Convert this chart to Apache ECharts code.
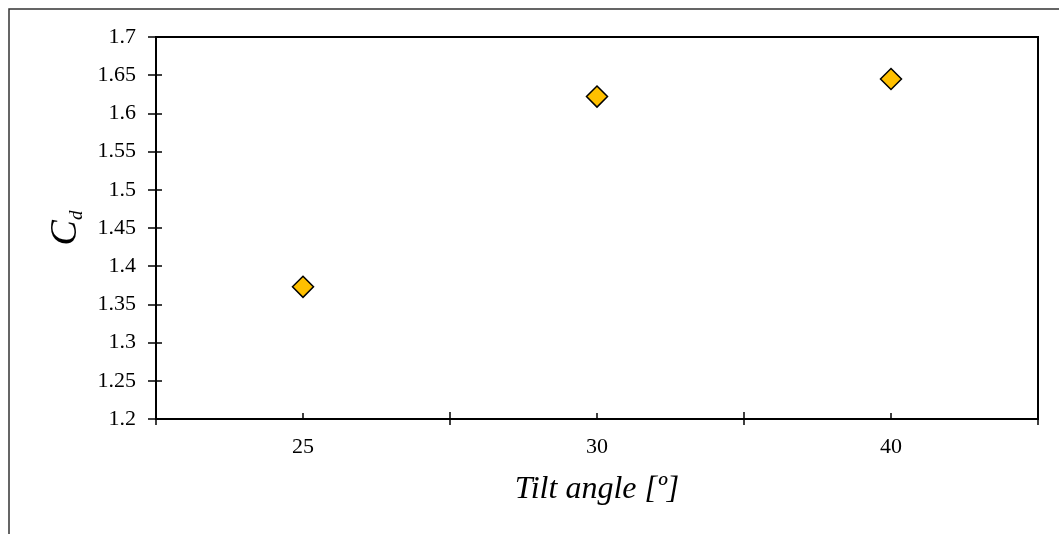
<!DOCTYPE html>
<html>
<head>
<meta charset="utf-8">
<script src="https://cdn.jsdelivr.net/npm/echarts@6/dist/echarts.min.js"></script>
<style>
  html, body { margin: 0; padding: 0; background: #fff; }
  #chart { width: 1059px; height: 534px; }
</style>
</head>
<body>
<div id="chart"></div>
<script>
// Drag coefficient against tilt angle
const tiltAngles = ['25', '30', '40'];
const dragCoefficient = [1.373, 1.622, 1.645];
const yMin = 1.2, yMax = 1.7, yStep = 0.05;

const serif = '"Liberation Serif", "Times New Roman", serif';
const black = '#000';

const chart = echarts.init(document.getElementById('chart'), null, { renderer: 'canvas' });

// Extra tick-only axes give the crossing / inner tick marks
const tickOnly = (inside, length, align) => ({
  type: 'category',
  data: tiltAngles,
  position: 'bottom',
  axisLine: { show: false },
  axisLabel: { show: false },
  axisTick: { show: true, inside: inside, length: length, alignWithLabel: align,
              lineStyle: { color: black, width: 1.5 } },
  splitLine: { show: false }
});

chart.setOption({
  animation: false,
  backgroundColor: '#fff',
  graphic: [
    { type: 'polyline', shape: { points: [[9, 534], [9, 9], [1059, 9]] },
      style: { stroke: '#333', lineWidth: 1.5, fill: null } }
  ],
  grid: { left: 156, right: 21, top: 37, bottom: 115, show: true,
          borderColor: black, borderWidth: 2, backgroundColor: 'transparent' },
  xAxis: [
    {
      type: 'category',
      data: tiltAngles,
      position: 'bottom',
      name: 'Tilt angle [º]',
      nameLocation: 'middle',
      nameGap: 55,
      nameTextStyle: { fontFamily: serif, fontStyle: 'italic', fontSize: 32, color: black },
      axisLine: { show: true, lineStyle: { color: black, width: 2 } },
      axisTick: { show: true, inside: false, length: 6, lineStyle: { color: black, width: 1.5 } },
      axisLabel: { fontFamily: serif, fontSize: 22, color: black, margin: 17 },
      splitLine: { show: false }
    },
    tickOnly(true, 7, false),
    tickOnly(true, 6, true)
  ],
  yAxis: [
    {
      type: 'value',
      min: yMin, max: yMax, interval: yStep,
      position: 'left',
      name: '{c|C}{d|d}',
      nameLocation: 'middle',
      nameGap: 66,
      nameRotate: 90,
      nameTextStyle: {
        fontFamily: serif, color: black,
        rich: {
          c: { fontFamily: serif, fontStyle: 'italic', fontSize: 38, color: black, verticalAlign: 'top', lineHeight: 40 },
          d: { fontFamily: serif, fontStyle: 'italic', fontSize: 19, color: black, verticalAlign: 'bottom', lineHeight: 19, padding: [27, 0, 0, 0] }
        }
      },
      axisLine: { show: true, lineStyle: { color: black, width: 2 } },
      axisTick: { show: true, inside: false, length: 8, lineStyle: { color: black, width: 1.5 } },
      axisLabel: { fontFamily: serif, fontSize: 22, color: black, margin: 20 },
      splitLine: { show: false }
    },
    {
      type: 'value',
      min: yMin, max: yMax, interval: yStep,
      position: 'left',
      axisLine: { show: false },
      axisLabel: { show: false },
      axisTick: { show: true, inside: true, length: 6, lineStyle: { color: black, width: 1.5 } },
      splitLine: { show: false }
    }
  ],
  series: [
    {
      type: 'scatter',
      xAxisIndex: 0,
      yAxisIndex: 0,
      data: dragCoefficient,
      symbol: 'diamond',
      symbolSize: [21, 21],
      itemStyle: { color: '#FFC000', borderColor: black, borderWidth: 1.5, opacity: 1 }
    }
  ]
});
</script>
</body>
</html>
